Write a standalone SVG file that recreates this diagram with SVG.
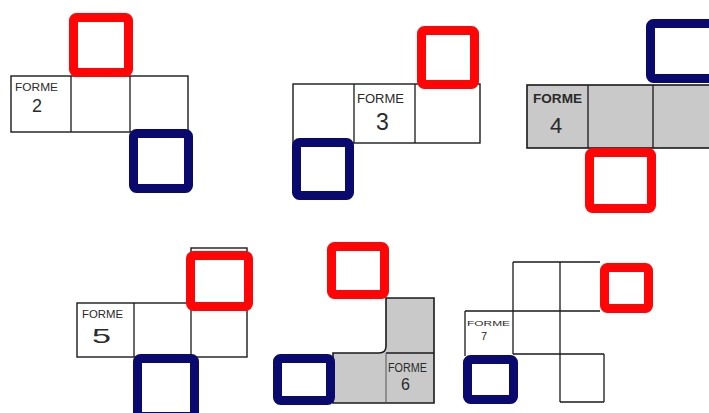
<svg xmlns="http://www.w3.org/2000/svg" width="709" height="413" viewBox="0 0 709 413">
<style>
.cell{fill:#fff;stroke:#1a1a1a;stroke-width:1.4}
.gray{fill:#c9c9c9;stroke:#1a1a1a;stroke-width:1.6}
.ln{fill:none;stroke:#1a1a1a;stroke-width:1.3}
.lnl{fill:none;stroke:#555;stroke-width:1}
.red{fill:#fff;stroke:#ff0505;stroke-width:9}
.blue{fill:#fff;stroke:#0a0a6e;stroke-width:9}
.lab{font-family:"Liberation Sans",Arial,sans-serif;fill:#2a2a2a}
.num{font-family:"Liberation Sans",Arial,sans-serif;fill:#2a2a2a}
</style>
<rect width="709" height="413" fill="#fff"/>
<g id="forme2">
<rect class="cell" x="11" y="76" width="177" height="56"/>
<path class="ln" d="M71,76V132M130,76V132"/>
<rect class="red" x="73.5" y="17.5" width="55" height="55" rx="3"/>
<rect class="blue" x="133.5" y="133.5" width="55" height="55" rx="3"/>
<text class="lab" x="15" y="91" font-size="11" textLength="43" lengthAdjust="spacingAndGlyphs">FORME</text>
<text class="num" x="32" y="112" font-size="18">2</text>
</g>
<g id="forme3">
<rect class="cell" x="293" y="84" width="187" height="59"/>
<path class="ln" d="M354,84V143M415,84V143"/>
<rect class="red" x="421.5" y="30.5" width="53" height="54" rx="3"/>
<rect class="blue" x="296.5" y="142.5" width="53" height="53" rx="3"/>
<text class="lab" x="357" y="103" font-size="12" textLength="47" lengthAdjust="spacingAndGlyphs">FORME</text>
<text class="num" x="376" y="130" font-size="23">3</text>
</g>
<g id="forme4">
<rect class="gray" x="527" y="85" width="190" height="63"/>
<path class="ln" d="M588,85V148M653,85V148"/>
<rect class="blue" x="650.5" y="23.5" width="64" height="55" rx="3"/>
<rect class="red" x="589.5" y="152.5" width="62" height="56" rx="3"/>
<text class="lab" x="533" y="103" font-size="13" font-weight="bold" textLength="49" lengthAdjust="spacingAndGlyphs">FORME</text>
<text class="num" x="550" y="133" font-size="22">4</text>
</g>
<g id="forme5">
<rect class="cell" x="191" y="248" width="56" height="55" stroke-width="2"/>
<rect class="cell" x="77" y="303" width="170" height="54"/>
<path class="ln" d="M134,303V357M191,303V357"/>
<rect class="red" x="190.5" y="255.5" width="58" height="51" rx="3"/>
<rect class="blue" x="137.5" y="358.5" width="57" height="58" rx="3"/>
<text class="lab" x="82" y="318" font-size="11" textLength="41" lengthAdjust="spacingAndGlyphs">FORME</text>
<text class="num" x="92" y="343" font-size="21" textLength="19" lengthAdjust="spacingAndGlyphs">5</text>
</g>
<g id="forme6">
<path class="gray" d="M386,298H434V403H333V353H379Q386,353 386,346Z"/>
<path class="ln" d="M386,353H434"/>
<path class="lnl" d="M386,353V403"/>
<rect class="red" x="331.5" y="246.5" width="53" height="48" rx="3"/>
<rect class="blue" x="277.5" y="358.5" width="53" height="42" rx="3"/>
<text class="lab" x="388" y="372" font-size="12" textLength="39" lengthAdjust="spacingAndGlyphs">FORME</text>
<text class="num" x="401" y="390" font-size="16">6</text>
</g>
<g id="forme7">
<path class="ln" d="M513,262H600M513,262V354M560,262V402M465,311H600M465,311V356M513,354H604M604,354V402M560,402H604"/>
<rect class="red" x="604.5" y="267.5" width="44" height="41" rx="3"/>
<rect class="blue" x="467.5" y="359.5" width="46" height="40" rx="3"/>
<text class="lab" x="467" y="326" font-size="8" textLength="43" lengthAdjust="spacingAndGlyphs">FORME</text>
<text class="num" x="481" y="340" font-size="11">7</text>
</g>
</svg>
